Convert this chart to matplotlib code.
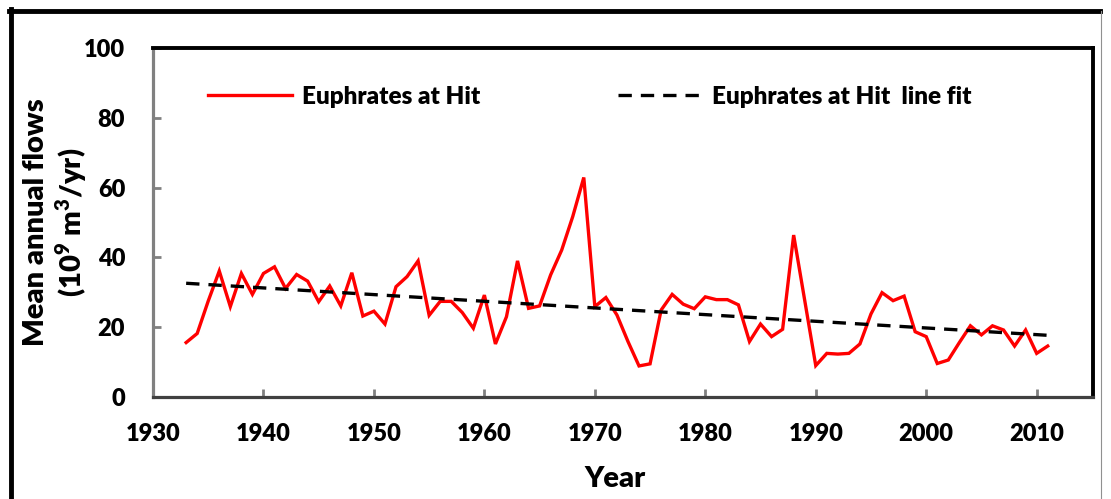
import numpy as np
import matplotlib
matplotlib.use("Agg")
import matplotlib.pyplot as plt
from matplotlib.lines import Line2D

years = list(range(1933, 2012))
flows = [15.6, 18.2, 27.5, 36.1, 25.9, 35.4, 29.4, 35.4, 37.3, 31.1,
         35.1, 33.2, 27.3, 31.8, 26.1, 35.6, 23.2, 24.6, 20.9, 31.6,
         34.5, 39.0, 23.4, 27.4, 27.4, 24.2, 19.7, 29.2, 15.2, 23.0,
         39.0, 25.4, 26.1, 35.0, 42.1, 51.7, 62.9, 25.9, 28.5, 23.5,
         15.9, 8.9, 9.5, 24.9, 29.4, 26.6, 25.3, 28.7, 27.9, 27.9,
         26.4, 15.9, 20.9, 17.3, 19.4, 46.4, 27.7, 9.0, 12.5, 12.3,
         12.5, 15.2, 23.8, 29.9, 27.6, 28.9, 18.7, 17.3, 9.6, 10.6,
         15.6, 20.4, 17.8, 20.4, 19.2, 14.6, 19.2, 12.5, 14.6]
xticks = [1930, 1940, 1950, 1960, 1970, 1980, 1990, 2000, 2010]
yticks = [0, 20, 40, 60, 80, 100]
series_label = "Euphrates at Hit"
fit_label = "Euphrates at Hit  line fit"

plt.rcParams['font.family'] = ['Lato', 'DejaVu Sans']
WT = 'heavy'
plt.rcParams['font.weight'] = WT
plt.rcParams['mathtext.fontset'] = 'custom'
plt.rcParams['mathtext.rm'] = 'Lato:heavy'
plt.rcParams['mathtext.bf'] = 'Lato:heavy'

W, H = 1111, 499
fig = plt.figure(figsize=(W / 100, H / 100), dpi=100)
ax = fig.add_axes([153 / W, 1 - 397 / H, 940 / W, 349 / H])

x = np.array(years)
y = np.array(flows)
coef = np.polyfit(x, y, 1)
fit = np.polyval(coef, x)

ax.plot(x, y, color='#ff0000', lw=2.4, label=series_label, solid_joinstyle='miter')
ax.plot(x, fit, color='black', lw=2.4, ls=(0, (4, 2.7)), label=fit_label)

ax.set_xlim(1930, 2015.1)
ax.set_ylim(0, 100)
ax.set_xticks(xticks)
ax.set_yticks(yticks)
ax.tick_params(axis='both', direction='in', length=6, width=2, color='#808080',
               labelsize=17)
ax.tick_params(axis='x', pad=19)
ax.tick_params(axis='y', pad=20)
for lab in ax.get_xticklabels() + ax.get_yticklabels():
    lab.set_fontweight(WT)

ax.spines['left'].set_color('#808080')
ax.spines['left'].set_linewidth(2.3)
ax.spines['bottom'].set_color('#404040')
ax.spines['bottom'].set_linewidth(2.3)
ax.spines['top'].set_color('black')
ax.spines['top'].set_linewidth(2.8)
ax.spines['right'].set_color('black')
ax.spines['right'].set_linewidth(2.8)

ax.set_xlabel('Year', fontsize=21, fontweight=WT)
ax.set_ylabel('Mean annual flows\n(10$^{9}$ m$^{3}$/yr)', fontsize=21,
              fontweight=WT, linespacing=1.15)
ax.xaxis.set_label_coords((615 - 153) / 940, -(466 - 397) / 349)
ax.yaxis.set_label_coords(-(153 - 89) / 940, 0.5)

leg = ax.legend(loc='center left', bbox_to_anchor=(55 / 940, 0.86), ncol=2,
                frameon=False, fontsize=17.5, handlelength=3.45, handletextpad=0.4,
                columnspacing=5.7, borderpad=0, borderaxespad=0)
for t in leg.get_texts():
    t.set_fontweight(WT)

# outer figure frame
fig.add_artist(Line2D([10.5 / W, 10.5 / W], [0, 1 - 9 / H], transform=fig.transFigure,
                      color='black', lw=3.5))
fig.add_artist(Line2D([9 / W, 1100 / W], [1 - 11 / H, 1 - 11 / H], transform=fig.transFigure,
                      color='black', lw=3.5))
fig.add_artist(Line2D([1100.5 / W, 1100.5 / W], [0, 1 - 11 / H], transform=fig.transFigure,
                      color='#909090', lw=0.8))

fig.savefig('out.png', dpi=100)
